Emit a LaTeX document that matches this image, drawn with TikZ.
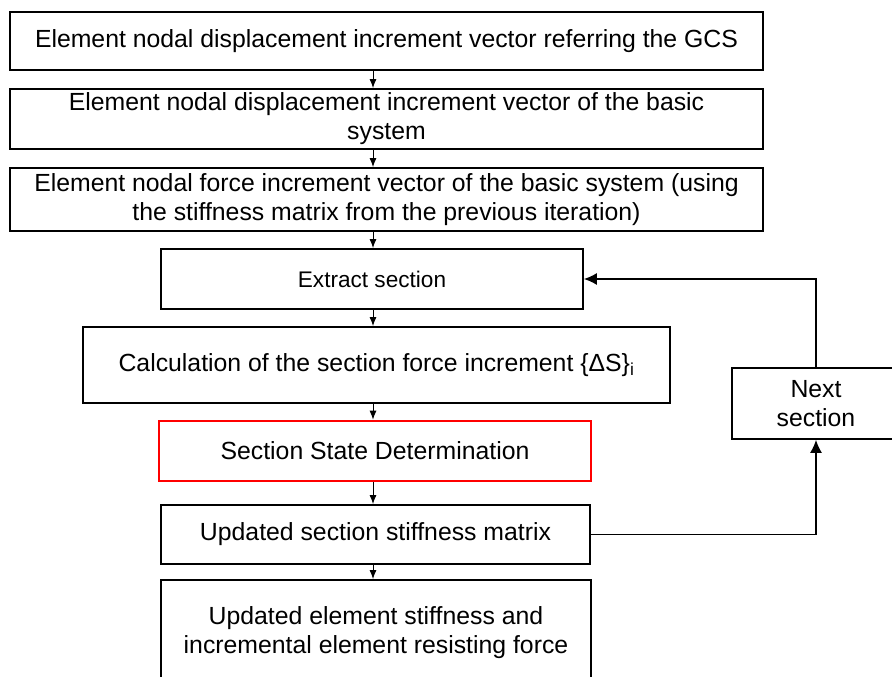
\documentclass[tikz,border=0pt]{standalone}
\usepackage{fontspec}
\setmainfont{Liberation Sans}
\usetikzlibrary{positioning,arrows.meta}

\begin{document}
\begin{tikzpicture}[x=1pt,y=-1pt,
  blk/.style={draw,line width=1.8pt,align=center,inner sep=0pt,font=\fontsize{24.8}{29}\selectfont},
  arr/.style={line width=1pt,-{Latex[length=9pt,width=7pt]}},
  back/.style={line width=1.3pt,-{Latex[length=13pt,width=12pt]}}]
\useasboundingbox (0,0) rectangle (892,677);
% element level: GCS -> basic system
\node[blk,minimum width=753,minimum height=58] (gdisp) at (386.5,41) {Element nodal displacement increment vector referring the GCS};
\node[blk,minimum width=753,minimum height=60] (bdisp) at (386.5,119) {Element nodal displacement increment vector of the basic\\system};
\node[blk,minimum width=753,minimum height=63] (bforce) at (386.5,199.5) {Element nodal force increment vector of the basic system (using\\the stiffness matrix from the previous iteration)};
% section loop
\node[blk,font=\fontsize{22.6}{29}\selectfont,minimum width=422,minimum height=60] (extract) at (372,279) {Extract section};
\node[blk,minimum width=587,minimum height=76] (dsec) at (376.5,365) {Calculation of the section force increment \{ΔS\}\textsubscript{i}};
\node[blk,draw=red,line width=2.6pt,minimum width=432,minimum height=60] (ssd) at (375,451) {Section State Determination};
\node[blk,minimum width=429,minimum height=59] (ksec) at (375.5,534.5) {Updated section stiffness matrix};
\node[blk,minimum width=430,minimum height=106] (kelem) at (376,633) {Updated element stiffness and\\incremental element resisting force};
\node[blk,minimum width=168,minimum height=71] (nextsec) at (816,403.5) {Next\\section};
% downward arrows share one vertical line
\coordinate (spine) at (373,0);
\draw[arr] (gdisp.south -| spine) -- (bdisp.north -| spine);
\draw[arr] (bdisp.south -| spine) -- (bforce.north -| spine);
\draw[arr] (bforce.south -| spine) -- (extract.north -| spine);
\draw[arr] (extract.south -| spine) -- (dsec.north -| spine);
\draw[arr] (dsec.south -| spine) -- (ssd.north -| spine);
\draw[arr] (ssd.south -| spine) -- (ksec.north -| spine);
\draw[arr] (ksec.south -| spine) -- (kelem.north -| spine);
% loop back over the sections
\draw[back] (ksec.east) -| (nextsec.south);
\draw[back] (nextsec.north) |- (extract.east);
\end{tikzpicture}
\end{document}
